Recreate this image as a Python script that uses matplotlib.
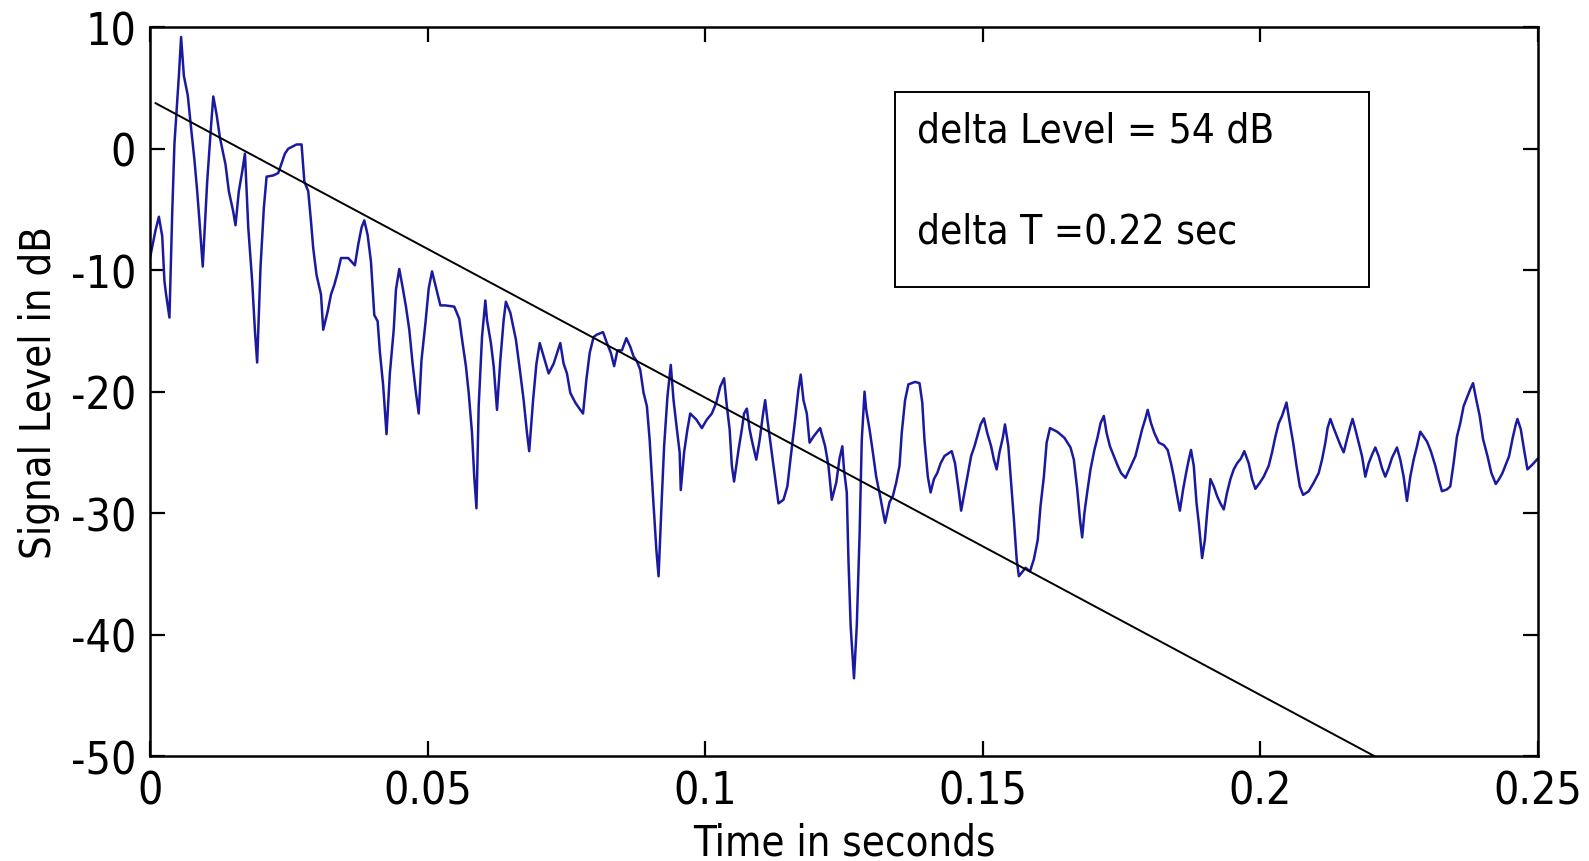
import matplotlib
matplotlib.use("Agg")
import matplotlib.pyplot as plt
from matplotlib import font_manager

# ---------------- data ----------------
time_s = [
    0.0000, 0.0010, 0.0016, 0.0022, 0.0026, 0.0029, 0.0035, 0.0040, 0.0044, 0.0052,
    0.0056, 0.0061, 0.0068, 0.0074, 0.0080, 0.0085, 0.0089, 0.0095, 0.0103, 0.0110,
    0.0114, 0.0120, 0.0126, 0.0136, 0.0142, 0.0150, 0.0154, 0.0160, 0.0166, 0.0171,
    0.0177, 0.0184, 0.0189, 0.0193, 0.0199, 0.0205, 0.0210, 0.0222, 0.0231, 0.0237,
    0.0243, 0.0249, 0.0264, 0.0273, 0.0278, 0.0285, 0.0290, 0.0294, 0.0300, 0.0308,
    0.0312, 0.0320, 0.0326, 0.0332, 0.0338, 0.0344, 0.0357, 0.0369, 0.0375, 0.0381,
    0.0386, 0.0392, 0.0398, 0.0404, 0.0410, 0.0414, 0.0420,
    0.0426, 0.0432, 0.0439, 0.0443, 0.0449, 0.0455, 0.0461, 0.0467, 0.0473, 0.0479,
    0.0484, 0.0489, 0.0496, 0.0502, 0.0508, 0.0515, 0.0523, 0.0532, 0.0548, 0.0557,
    0.0563, 0.0569, 0.0574, 0.0580, 0.0584, 0.0588, 0.0592, 0.0598, 0.0604, 0.0607,
    0.0614, 0.0619, 0.0625, 0.0631, 0.0637, 0.0641, 0.0649, 0.0659, 0.0667, 0.0673,
    0.0679, 0.0683, 0.0690, 0.0696, 0.0702, 0.0709, 0.0718, 0.0727, 0.0739, 0.0745,
    0.0751, 0.0757, 0.0766, 0.0775, 0.0780, 0.0786, 0.0792, 0.0799, 0.0805, 0.0816,
    0.0823, 0.0830, 0.0836,
    0.0842, 0.0850, 0.0858, 0.0865, 0.0871, 0.0877, 0.0883, 0.0889, 0.0895, 0.0900,
    0.0906, 0.0912, 0.0916, 0.0922, 0.0926, 0.0932, 0.0938, 0.0943, 0.0949, 0.0954,
    0.0956, 0.0962, 0.0968, 0.0973, 0.0984, 0.0994, 0.1003, 0.1012, 0.1020, 0.1027,
    0.1034, 0.1039, 0.1044, 0.1048, 0.1052, 0.1060, 0.1066, 0.1070, 0.1075, 0.1080,
    0.1084, 0.1092, 0.1098, 0.1104, 0.1108, 0.1112, 0.1117, 0.1123, 0.1132, 0.1141,
    0.1148, 0.1155, 0.1162, 0.1168, 0.1172, 0.1177, 0.1183, 0.1188, 0.1195, 0.1207,
    0.1216, 0.1222, 0.1228, 0.1236, 0.1242,
    0.1247, 0.1250, 0.1255, 0.1258, 0.1262, 0.1268, 0.1273, 0.1278, 0.1282, 0.1287,
    0.1290, 0.1296, 0.1302, 0.1308, 0.1315, 0.1324, 0.1332, 0.1338, 0.1344, 0.1350,
    0.1354, 0.1360, 0.1366, 0.1378, 0.1386, 0.1391, 0.1395, 0.1401, 0.1406, 0.1412,
    0.1418, 0.1424, 0.1431, 0.1444, 0.1450, 0.1457, 0.1461, 0.1467, 0.1473, 0.1479,
    0.1485, 0.1491, 0.1496, 0.1502, 0.1508, 0.1515, 0.1520, 0.1525, 0.1530, 0.1536,
    0.1540, 0.1546, 0.1551, 0.1556, 0.1561, 0.1565, 0.1577, 0.1585, 0.1592, 0.1599,
    0.1604, 0.1610, 0.1615, 0.1621, 0.1634, 0.1647, 0.1658, 0.1664,
    0.1670, 0.1675, 0.1679, 0.1683, 0.1688, 0.1694, 0.1701, 0.1707, 0.1712, 0.1718,
    0.1723, 0.1729, 0.1736, 0.1743, 0.1749, 0.1757, 0.1764, 0.1775, 0.1781, 0.1787,
    0.1793, 0.1797, 0.1803, 0.1809, 0.1817, 0.1826, 0.1833, 0.1839, 0.1844, 0.1849,
    0.1855, 0.1861, 0.1867, 0.1871, 0.1875, 0.1880, 0.1885, 0.1889, 0.1895, 0.1900,
    0.1904, 0.1910, 0.1916, 0.1922, 0.1928, 0.1934, 0.1940, 0.1946, 0.1952, 0.1958,
    0.1965, 0.1971, 0.1979, 0.1985, 0.1991, 0.1999, 0.2006, 0.2015, 0.2021, 0.2027,
    0.2033, 0.2039, 0.2047, 0.2053, 0.2059, 0.2065, 0.2071, 0.2077,
    0.2087, 0.2096, 0.2105, 0.2111, 0.2117, 0.2121, 0.2126, 0.2132, 0.2138, 0.2144,
    0.2150, 0.2156, 0.2162, 0.2166, 0.2171, 0.2177, 0.2183, 0.2189, 0.2195, 0.2201,
    0.2207, 0.2213, 0.2219, 0.2225, 0.2231, 0.2237, 0.2246, 0.2252, 0.2258, 0.2264,
    0.2270, 0.2276, 0.2282, 0.2288, 0.2294, 0.2300, 0.2307, 0.2315, 0.2321, 0.2327,
    0.2336, 0.2342, 0.2348, 0.2354, 0.2360, 0.2366, 0.2372, 0.2378, 0.2383, 0.2389,
    0.2395, 0.2401, 0.2409, 0.2416, 0.2424, 0.2430, 0.2436, 0.2442, 0.2448, 0.2454,
    0.2460, 0.2463, 0.2469, 0.2475, 0.2481, 0.2490, 0.2500,
]
level_db = [
    -9.0, -6.7, -5.6, -7.2, -10.9, -12.0, -13.9, -5.3, 0.4, 6.0,
    9.2, 6.0, 4.4, 1.7, -0.9, -3.5, -5.9, -9.7, -2.7, 1.9,
    4.3, 2.8, 0.9, -1.3, -3.5, -5.2, -6.3, -3.5, -1.9, -0.4,
    -6.5, -10.9, -15.0, -17.6, -9.8, -4.9, -2.3, -2.2, -2.0, -1.2,
    -0.4, 0.0, 0.35, 0.35, -2.7, -3.5, -6.0, -8.2, -10.4, -12.0,
    -14.9, -13.4, -12.0, -11.2, -10.2, -9.0, -9.0, -9.6, -7.9, -6.5,
    -5.9, -7.1, -9.3, -13.7, -14.2, -16.7, -19.5,
    -23.5, -18.5, -14.9, -11.6, -9.9, -11.4, -13.0, -14.9, -17.7, -20.1,
    -21.8, -17.4, -14.4, -11.5, -10.1, -11.4, -12.9, -12.9, -13.0, -14.0,
    -16.0, -17.9, -20.1, -23.4, -27.0, -29.6, -21.2, -15.5, -12.5, -14.1,
    -16.0, -17.9, -21.5, -17.4, -14.1, -12.6, -13.5, -15.7, -18.5, -20.7,
    -23.4, -24.9, -20.7, -17.7, -16.0, -17.1, -18.5, -17.7, -16.0, -17.7,
    -18.5, -20.1, -20.9, -21.5, -21.8, -19.0, -16.8, -15.5, -15.3, -15.1,
    -16.0, -16.8, -17.9,
    -16.6, -16.6, -15.6, -16.3, -17.1, -17.5, -18.2, -20.1, -21.2, -24.0,
    -28.6, -33.0, -35.2, -28.6, -24.5, -20.4, -17.8, -20.7, -23.1, -25.0,
    -28.1, -25.0, -23.1, -21.8, -22.3, -23.0, -22.3, -21.8, -20.9, -19.6,
    -18.9, -21.2, -23.1, -26.1, -27.4, -24.8, -23.1, -21.8, -21.4, -23.1,
    -24.0, -25.6, -24.0, -21.9, -20.7, -22.3, -24.0, -26.1, -29.2, -28.9,
    -27.8, -25.0, -22.3, -19.8, -18.6, -20.7, -21.8, -24.2, -23.7, -23.0,
    -24.5, -26.1, -28.9, -27.5, -25.5,
    -24.5, -26.4, -28.3, -33.8, -39.3, -43.6, -39.3, -31.9, -24.0, -20.0,
    -21.5, -23.1, -25.0, -27.0, -28.6, -30.8, -29.1, -28.6, -27.5, -26.1,
    -23.4, -20.7, -19.4, -19.2, -19.3, -20.9, -24.0, -27.0, -28.3, -27.2,
    -26.7, -25.9, -25.3, -24.9, -25.9, -28.3, -29.8, -28.3, -26.8, -25.3,
    -24.5, -23.5, -22.7, -22.2, -23.4, -24.5, -25.6, -26.4, -25.0, -23.8,
    -22.7, -24.5, -27.5, -30.5, -33.8, -35.2, -34.5, -34.8, -33.8, -32.2,
    -29.4, -27.0, -24.2, -23.0, -23.3, -23.8, -24.6, -25.6,
    -28.0, -30.5, -32.0, -30.0, -28.3, -26.4, -24.8, -23.7, -22.6, -22.0,
    -23.4, -24.5, -25.3, -26.1, -26.7, -27.1, -26.4, -25.3, -24.2, -23.1,
    -22.2, -21.5, -22.6, -23.4, -24.2, -24.4, -24.8, -25.9, -27.0, -28.3,
    -29.8, -28.0, -26.5, -25.6, -24.8, -26.1, -29.2, -30.8, -33.7, -32.2,
    -30.0, -27.2, -27.8, -28.6, -29.2, -29.7, -28.3, -27.2, -26.4, -25.9,
    -25.5, -24.9, -25.9, -27.2, -28.0, -27.5, -27.0, -26.1, -25.0, -23.7,
    -22.6, -22.0, -20.9, -22.6, -24.2, -26.1, -27.8, -28.5,
    -28.2, -27.5, -26.7, -25.6, -24.2, -23.0, -22.25, -23.0, -23.7, -24.4,
    -25.0, -23.9, -22.85, -22.25, -23.1, -24.2, -25.3, -27.0, -25.9, -25.2,
    -24.6, -25.3, -26.3, -27.0, -26.3, -25.45, -24.6, -25.6, -27.0, -29.0,
    -27.0, -25.6, -24.5, -23.3, -23.7, -24.1, -24.9, -26.1, -27.2, -28.2,
    -28.05, -27.8, -25.9, -23.7, -22.6, -21.2, -20.5, -19.8, -19.3, -20.7,
    -22.0, -23.9, -25.3, -26.7, -27.6, -27.2, -26.7, -26.0, -25.3, -23.9,
    -22.7, -22.25, -23.1, -24.8, -26.4, -26.0, -25.5,
]

# fitted decay line (start / end)
fit_time = [0.001, 0.2205]
fit_level = [3.75, -50.0]

xticks = [0, 0.05, 0.1, 0.15, 0.2, 0.25]
xtick_labels = ["0", "0.05", "0.1", "0.15", "0.2", "0.25"]
yticks = [10, 0, -10, -20, -30, -40, -50]
ytick_labels = ["10", "0", "-10", "-20", "-30", "-40", "-50"]

annotation_lines = ["delta Level = 54 dB", "delta T =0.22 sec"]

# ---------------- font: prefer a narrow / condensed sans ----------------
def pick_narrow_font():
    entries = font_manager.fontManager.ttflist
    def ok(f):
        return f.style == "normal" and f.weight in (400, "normal", "regular", "book")
    prefs = [
        lambda f: f.name == "Liberation Sans Narrow",
        lambda f: f.name == "DejaVu Sans" and "ondensed" in str(f.stretch),
        lambda f: "Condensed" in f.name and "Sans" in f.name,
        lambda f: "Narrow" in f.name or "Condensed" in f.name,
        lambda f: "ondensed" in str(f.stretch),
    ]
    for p in prefs:
        for f in entries:
            try:
                if p(f) and ok(f):
                    return f.fname
            except Exception:
                pass
    return None

narrow = pick_narrow_font()
if narrow:
    fp_base = font_manager.FontProperties(fname=narrow)
    scale = 1.0
else:
    fp_base = font_manager.FontProperties(family=["Liberation Sans", "DejaVu Sans"])
    scale = 0.95

def fp(size):
    p = fp_base.copy()
    p.set_size(size * scale)
    return p

fig = plt.figure(figsize=(15.89, 8.62), dpi=100)
ax = fig.add_axes([0.0944, 0.1218, 0.8735, 0.8454])

ax.plot(time_s, level_db, color="#1a1aa0", lw=1.8)
ax.plot(fit_time, fit_level, color="black", lw=1.4)

ax.set_xlim(0, 0.25)
ax.set_ylim(-50, 10)
ax.set_xticks(xticks)
ax.set_xticklabels(xtick_labels, fontproperties=fp(32))
ax.set_yticks(yticks)
ax.set_yticklabels(ytick_labels, fontproperties=fp(32))

ax.tick_params(direction="in", length=11, width=1.6, top=True, right=True)
ax.tick_params(axis="x", pad=10)
ax.tick_params(axis="y", pad=10)
for s in ax.spines.values():
    s.set_linewidth(1.8)

ax.set_xlabel("Time in seconds", fontproperties=fp(30), labelpad=6)
ax.set_ylabel("Signal Level in dB", fontproperties=fp(30), labelpad=8)

# annotation box
ax.text(0.1382, 1.5, annotation_lines[0], fontproperties=fp(29), va="center", ha="left")
ax.text(0.1382, -6.8, annotation_lines[1], fontproperties=fp(29), va="center", ha="left")
ax.add_patch(plt.Rectangle((0.1342, -11.4), 0.0853, 16.1, fill=False,
                           edgecolor="black", lw=1.4))

fig.savefig("out.png", dpi=100)
